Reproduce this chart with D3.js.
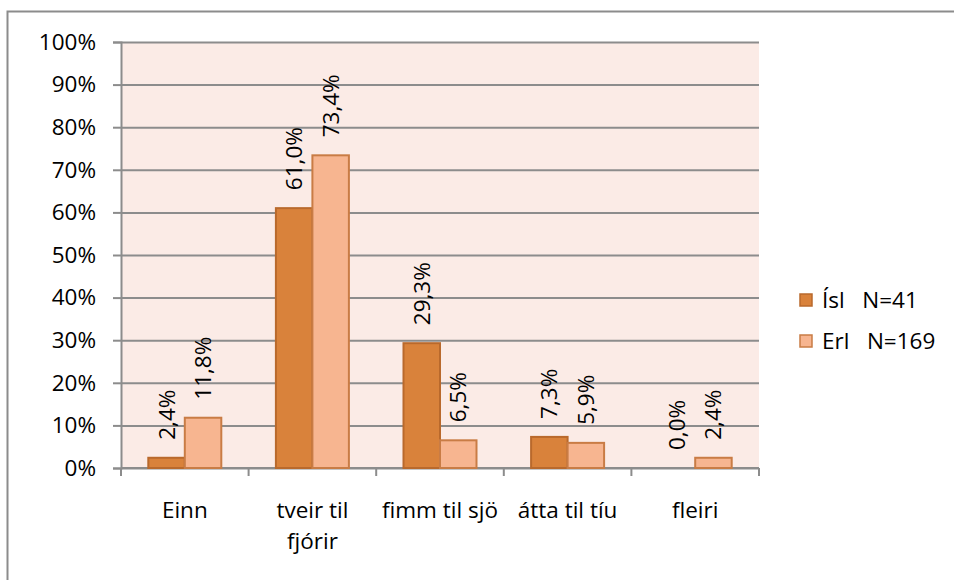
<!DOCTYPE html>
<html>
<head>
<meta charset="utf-8">
<script src="https://cdn.jsdelivr.net/npm/d3@7"></script>
<style>
  body { margin: 0; background: #fff; overflow: hidden; }
  svg { display: block; }
  text { font-family: "Open Sans", sans-serif; fill: #000; }
</style>
</head>
<body>
<div id="chart"></div>
<script>
// data
const categories = ["Einn", "tveir til fjórir", "fimm til sjö", "átta til tíu", "fleiri"];
const catLines = [["Einn"], ["tveir til", "fjórir"], ["fimm til sjö"], ["átta til tíu"], ["fleiri"]];
const seriesNames = ["Ísl   N=41", "Erl   N=169"];
const islValues = [2.4, 61.0, 29.3, 7.3, 0.0];
const erlValues = [11.8, 73.4, 6.5, 5.9, 2.4];
const yTicks = [0, 10, 20, 30, 40, 50, 60, 70, 80, 90, 100];

const fills = ["#d9823b", "#f7b590"];
const strokes = ["#b9692c", "#c97c45"];
const fontSize = "22.5px";

const width = 954, height = 580;
const margin = {top: 42, right: 195, bottom: 112, left: 121};
const innerWidth = width - margin.left - margin.right;
const innerHeight = height - margin.top - margin.bottom;

const svg = d3.select("#chart").append("svg")
    .attr("width", width)
    .attr("height", height);

// outer chart border, only left and top edges are visible on the page
svg.append("path")
    .attr("d", `M7.5,${height}V11.5H${width}`)
    .attr("fill", "none")
    .attr("stroke", "#8c8c8c")
    .attr("stroke-width", 2);

const g = svg.append("g")
    .attr("transform", `translate(${margin.left},${margin.top})`);

const x0 = d3.scaleBand()
    .domain(categories)
    .range([0, innerWidth]);

const x1 = d3.scaleBand()
    .domain([0, 1])
    .range([0, 73]);

const y = d3.scaleLinear()
    .domain([0, 100])
    .range([innerHeight, 0]);

// plot background
g.append("rect")
    .attr("width", innerWidth)
    .attr("height", innerHeight)
    .attr("fill", "#fbebe6");

// gridlines + y axis
const yAxisG = g.append("g")
    .call(d3.axisLeft(y).tickValues(yTicks).tickSize(8).tickPadding(17).tickFormat(d => d + "%"));
yAxisG.select(".domain").attr("stroke", "#8c8c8c").attr("stroke-width", 2);
yAxisG.selectAll(".tick line").attr("stroke", "#8c8c8c").attr("stroke-width", 2);
yAxisG.selectAll(".tick text").attr("font-size", fontSize).attr("font-family", "Open Sans, sans-serif");
yAxisG.selectAll(".tick").append("line")
    .attr("x1", 0).attr("x2", innerWidth)
    .attr("stroke", "#8c8c8c")
    .attr("stroke-width", 2);

// x axis with category ticks
const xAxisG = g.append("g")
    .attr("transform", `translate(0,${innerHeight})`);
xAxisG.append("line")
    .attr("x1", 0).attr("x2", innerWidth)
    .attr("stroke", "#8c8c8c").attr("stroke-width", 2);
xAxisG.selectAll(".ctick")
    .data(d3.range(categories.length + 1))
    .enter().append("line")
    .attr("x1", i => i * x0.bandwidth())
    .attr("x2", i => i * x0.bandwidth())
    .attr("y1", 0).attr("y2", 8)
    .attr("stroke", "#8c8c8c").attr("stroke-width", 2);

const labelG = xAxisG.selectAll(".clabel")
    .data(categories)
    .enter().append("text")
    .attr("text-anchor", "middle")
    .attr("font-size", fontSize)
    .attr("x", d => x0(d) + x0.bandwidth() / 2)
    .attr("y", 50);
labelG.selectAll("tspan")
    .data((d, i) => catLines[i])
    .enter().append("tspan")
    .attr("x", function() { return d3.select(this.parentNode).attr("x"); })
    .attr("dy", (d, i) => i === 0 ? 0 : 31)
    .text(d => d);

// bars
const rows = categories.map((c, i) => ({cat: c, vals: [islValues[i], erlValues[i]]}));

const groups = g.selectAll(".grp")
    .data(rows)
    .enter().append("g")
    .attr("transform", d => `translate(${x0(d.cat) + (x0.bandwidth() - 73) / 2},0)`);

groups.selectAll("rect")
    .data(d => d.vals.map((v, k) => ({v, k})))
    .enter().append("rect")
    .filter(d => d.v > 0)
    .attr("x", d => x1(d.k))
    .attr("y", d => y(d.v))
    .attr("width", x1.bandwidth())
    .attr("height", d => innerHeight - y(d.v))
    .attr("fill", d => fills[d.k])
    .attr("stroke", d => strokes[d.k])
    .attr("stroke-width", 2);

// value labels, rotated
groups.selectAll(".vlabel")
    .data(d => d.vals.map((v, k) => ({v, k})))
    .enter().append("text")
    .attr("font-size", fontSize)
    .attr("transform", d => `translate(${x1(d.k) + x1.bandwidth() / 2 + 8},${y(d.v) - 18}) rotate(-90)`)
    .text(d => d.v.toFixed(1).replace(".", ",") + "%");

// legend
const legend = svg.append("g")
    .attr("transform", "translate(800,294)");
const items = legend.selectAll("g")
    .data(seriesNames)
    .enter().append("g")
    .attr("transform", (d, i) => `translate(0,${i * 41})`);
items.append("rect")
    .attr("width", 12).attr("height", 12)
    .attr("fill", (d, i) => fills[i])
    .attr("stroke", (d, i) => strokes[i])
    .attr("stroke-width", 1.5);
items.append("text")
    .attr("x", 22).attr("y", 14)
    .attr("font-size", fontSize)
    .style("white-space", "pre")
    .text(d => d);
</script>
</body>
</html>
